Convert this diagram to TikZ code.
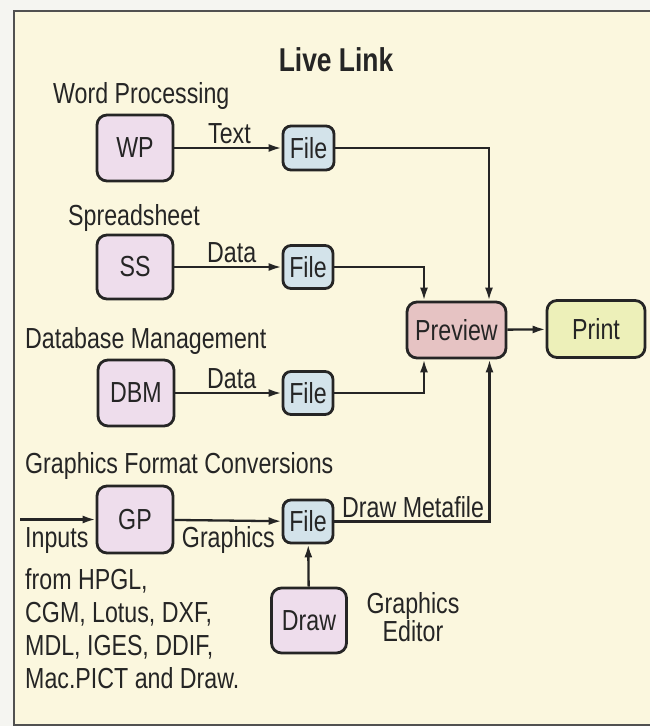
\documentclass[tikz,border=0pt]{standalone}
\usepackage{fontspec}
\setmainfont{Liberation Sans}[FakeStretch=0.8]
\usetikzlibrary{arrows.meta}
\definecolor{bgcream}{HTML}{FBF7DE}
\definecolor{outside}{HTML}{F5F5F1}
\definecolor{lav}{HTML}{EEDDEC}
\definecolor{fileblue}{HTML}{D3E3EA}
\definecolor{prevpink}{HTML}{E6C3C3}
\definecolor{printgreen}{HTML}{EDF0B9}
\definecolor{ink}{HTML}{252525}
\tikzset{
  x=1pt, y=-1pt,
  box/.style={draw=ink, line width=2.8pt, rounded corners=10pt, inner sep=0pt, font=\fontsize{29}{30}\selectfont, text=ink},
  appbox/.style={box, fill=lav, minimum width=76pt, minimum height=66pt},
  filebox/.style={box, fill=fileblue, rounded corners=8pt, minimum width=50pt, minimum height=43pt},
  lbl/.style={inner sep=0pt, font=\fontsize{29}{30}\selectfont, text=ink},
  conn/.style={draw=ink, line width=2.3pt, -{Latex[length=13pt,width=8pt]}},
}
\begin{document}
\begin{tikzpicture}
\useasboundingbox (0,0) rectangle (650,726);
\fill[outside] (0,0) rectangle (650,726);
\filldraw[fill=bgcream, draw=ink!80, line width=1.8pt] (14,11) rectangle (653,725);

\node[lbl, font=\fontsize{33}{36}\selectfont\bfseries] (title) at (336,60) {Live Link};

% labels
\node[lbl, anchor=base west] (wpl) at (53,103) {Word Processing};
\node[lbl, anchor=base west] (ssl) at (68,225) {Spreadsheet};
\node[lbl, anchor=base west] (dbml) at (25,348) {Database Management};
\node[lbl, anchor=base west] (gfcl) at (25,473) {Graphics Format Conversions};

% app boxes
\node[appbox] (wp) at (135,148) {WP};
\node[appbox, minimum height=64pt] (ss) at (135,267) {SS};
\node[appbox] (dbm) at (136,393) {DBM};
\node[appbox, minimum height=67pt] (gp) at (135,519.5) {GP};
\node[appbox, minimum width=75pt, minimum height=65pt] (draw) at (309,620.5) {Draw};

% file boxes
\node[filebox, minimum width=51pt, minimum height=44pt] (f1) at (308.5,148) {File};
\node[filebox] (f2) at (308,267) {File};
\node[filebox] (f3) at (308,393) {File};
\node[filebox] (f4) at (308,521.5) {File};

% preview / print
\node[box, fill=prevpink, minimum width=99pt, minimum height=56pt] (prev) at (456.5,330) {Preview};
\node[box, fill=printgreen, minimum width=98pt, minimum height=57pt] (print) at (596,329) {Print};

% connector labels
\node[lbl, anchor=base west] (ltext) at (208,143) {Text};
\node[lbl, anchor=base west] (ldata1) at (207,262) {Data};
\node[lbl, anchor=base west] (ldata2) at (207,388) {Data};
\node[lbl, anchor=base east] (lgraph) at (275,547) {Graphics};
\node[lbl, anchor=base west] (lmeta) at (342,517) {Draw Metafile};
\node[lbl, align=center, font=\fontsize{29}{28}\selectfont] (ged) at (413,617) {Graphics\\Editor};

% inputs text
\node[lbl, anchor=base west] (in1) at (25,547) {Inputs};
\node[lbl, anchor=base west] (in2) at (25,589) {from HPGL,};
\node[lbl, anchor=base west] (in3) at (25,622) {CGM, Lotus, DXF,};
\node[lbl, anchor=base west] (in4) at (25,655) {MDL, IGES, DDIF,};
\node[lbl, anchor=base west] (in5) at (25,688) {Mac.PICT and Draw.};

\coordinate (inp) at (20,519.5);

% connectors
\draw[conn] (wp) -- (f1);
\draw[conn] (ss) -- (f2);
\draw[conn] (dbm) -- (f3);
\draw[conn] (gp) -- (f4);
\draw[conn] (inp) -- (gp);
\draw[conn] (draw) -- (f4);
\draw[conn] (prev) -- (print);
\draw[conn] (f1.east) -| ([xshift=32.5pt]prev.north);
\draw[conn] (f2.east) -| ([xshift=-32.5pt]prev.north);
\draw[conn] (f3.east) -| ([xshift=-32.5pt]prev.south);
\draw[conn] (f4.east) -| ([xshift=33pt]prev.south);
\end{tikzpicture}
\end{document}
